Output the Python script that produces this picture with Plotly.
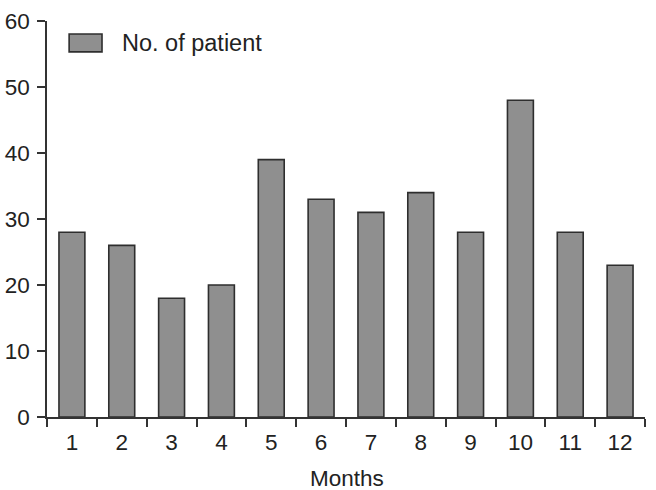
import plotly.graph_objects as go

months = ["1", "2", "3", "4", "5", "6", "7", "8", "9", "10", "11", "12"]
patients = [28, 26, 18, 20, 39, 33, 31, 34, 28, 48, 28, 23]
series_name = "No. of patient"
x_title = "Months"
y_ticks = [0, 10, 20, 30, 40, 50, 60]

FONT = "Liberation Sans, Arial, sans-serif"
TXT = "#222222"
AX = "#333333"

fig = go.Figure()
fig.add_trace(go.Bar(
    x=months, y=patients, name=series_name,
    marker=dict(color="#8f8f8f", line=dict(color="#2e2e2e", width=1.6)),
    width=0.52, showlegend=False,
))

# legend drawn as swatch + label
fig.add_shape(type="rect", xref="paper", yref="paper",
              x0=0.037, x1=0.092, y0=0.922, y1=0.967,
              fillcolor="#8f8f8f", line=dict(color="#2e2e2e", width=1.6))
fig.add_annotation(xref="paper", yref="paper", x=0.122, y=0.945,
                   text=series_name, showarrow=False, xanchor="left", yanchor="middle",
                   font=dict(family=FONT, size=23.5, color=TXT))

# x-axis title placed as annotation below tick labels
fig.add_annotation(xref="paper", yref="paper", x=0.502, y=-0.155,
                   text=x_title, showarrow=False, xanchor="center", yanchor="middle",
                   borderpad=0,
                   font=dict(family=FONT, size=22.5, color=TXT))

fig.update_layout(
    width=656, height=490,
    margin=dict(l=47, r=11, t=21, b=73),
    paper_bgcolor="white", plot_bgcolor="white",
    font=dict(family=FONT, size=22.5, color=TXT),
    xaxis=dict(
        type="category", range=[-0.5, 11.5], tickson="boundaries",
        ticks="outside", ticklen=8, tickwidth=1.5, tickcolor=AX,
        ticklabelstandoff=4, automargin=False,
        showline=True, linecolor=AX, linewidth=1.5, showgrid=False,
    ),
    yaxis=dict(
        range=[0, 60], tickvals=y_ticks,
        ticks="outside", ticklen=8, tickwidth=1.5, tickcolor=AX,
        ticklabelstandoff=3, automargin=False,
        showline=True, linecolor=AX, linewidth=1.5, showgrid=False, zeroline=False,
    ),
)

fig.write_html("out.html")
